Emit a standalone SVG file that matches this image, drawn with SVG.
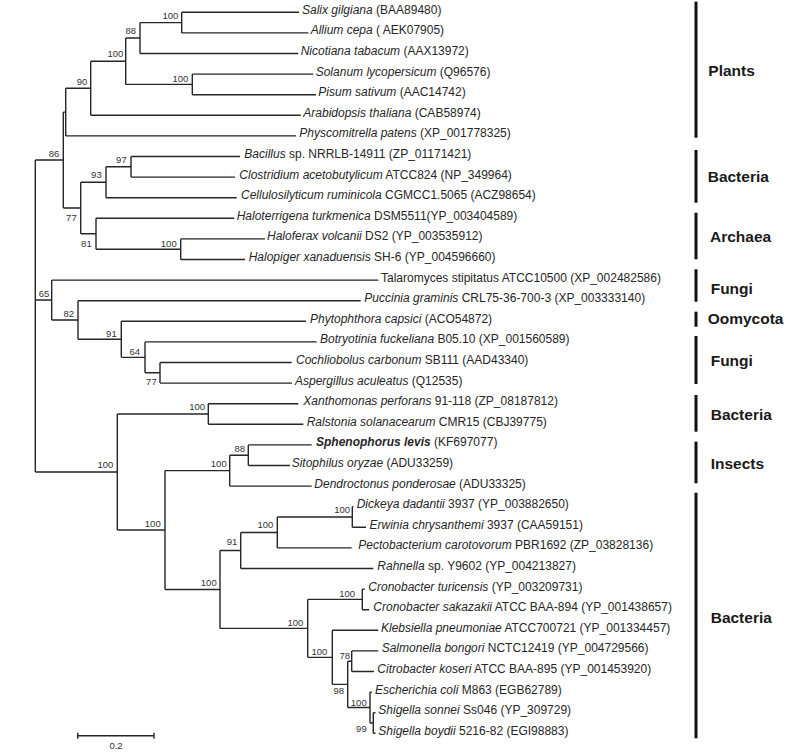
<svg xmlns="http://www.w3.org/2000/svg" width="800" height="753" viewBox="0 0 800 753">
<style>
.br{fill:none;stroke:#262626;stroke-width:1.4}
.lf{font-family:"Liberation Sans",Arial,sans-serif;font-size:12px;fill:#262626}
.bs{font-family:"Liberation Sans",Arial,sans-serif;font-size:9.5px;fill:#333;text-anchor:end}
.grp{font-family:"Liberation Sans",Arial,sans-serif;font-size:15.5px;font-weight:bold;fill:#1a1a1a}
.bar{stroke:#111;stroke-width:3}
.i{font-style:italic}
</style>
<rect width="800" height="753" fill="#fff"/>
<g id="connectors">
<path class="br" d="M35.3 160.05V472M35.3 160.05H63.3M35.3 300.05H51.7M35.3 472H117.3"/>
<path class="br" d="M63.3 112.1V208M63.3 112.1H65.7M63.3 208H80.7"/>
<path class="br" d="M65.7 88.25V135.9M65.7 88.25H90.7M65.7 135.9H296"/>
<path class="br" d="M90.7 61.2V115.3M90.7 61.2H125.7M90.7 115.3H300.7"/>
<path class="br" d="M125.7 38.05V84.4M125.7 38.05H140M125.7 84.4H192.3"/>
<path class="br" d="M140 22.6V53.5M140 22.6H181.7M140 53.5H298.3"/>
<path class="br" d="M181.7 12.3V32.9M181.7 12.3H299M181.7 32.9H308.3"/>
<path class="br" d="M192.3 74.1V94.7M192.3 74.1H313.3M192.3 94.7H316"/>
<path class="br" d="M80.7 182.25V233.75M80.7 182.25H106M80.7 233.75H96"/>
<path class="br" d="M106 166.8V197.7M106 166.8H131M106 197.7H236.7"/>
<path class="br" d="M131 156.5V177.1M131 156.5H240M131 177.1H235"/>
<path class="br" d="M96 218.3V249.2M96 218.3H234.3M96 249.2H180.7"/>
<path class="br" d="M180.7 238.9V259.5M180.7 238.9H265M180.7 259.5H245"/>
<path class="br" d="M51.7 280.1V320M51.7 280.1H378.3M51.7 320H78"/>
<path class="br" d="M78 300.7V339.3M78 300.7H360.7M78 339.3H121.3"/>
<path class="br" d="M121.3 321.3V357.35M121.3 321.3H306M121.3 357.35H145"/>
<path class="br" d="M145 341.9V372.8M145 341.9H316.7M145 372.8H160"/>
<path class="br" d="M160 362.5V383.1M160 362.5H291.7M160 383.1H292"/>
<path class="br" d="M117.3 414V530.05M117.3 414H208.3M117.3 530.05H165"/>
<path class="br" d="M208.3 403.7V424.3M208.3 403.7H298.3M208.3 424.3H303.3"/>
<path class="br" d="M165 470.65V589.45M165 470.65H229.7M165 589.45H220"/>
<path class="br" d="M229.7 455.2V486.1M229.7 455.2H248.3M229.7 486.1H311.7"/>
<path class="br" d="M248.3 444.9V465.5M248.3 444.9H311.7M248.3 465.5H290"/>
<path class="br" d="M220 550.5V628.4M220 550.5H240.7M220 628.4H307.7"/>
<path class="br" d="M240.7 532.45V568.5M240.7 532.45H277.3M240.7 568.5H373.3"/>
<path class="br" d="M277.3 517V547.9M277.3 517H352.3M277.3 547.9H351.7"/>
<path class="br" d="M352.3 506.7V527.3M352.3 506.7H353.5M352.3 527.3H366"/>
<path class="br" d="M307.7 599.4V657.35M307.7 599.4H362.3M307.7 657.35H332.3"/>
<path class="br" d="M362.3 589.1V609.7M362.3 589.1H365M362.3 609.7H369.3"/>
<path class="br" d="M332.3 630.3V684.4M332.3 630.3H378.3M332.3 684.4H347.7"/>
<path class="br" d="M347.7 661.2V707.55M347.7 661.2H351.7M347.7 707.55H370"/>
<path class="br" d="M351.7 650.9V671.5M351.7 650.9H378.3M351.7 671.5H374"/>
<path class="br" d="M370 692.1V723M370 692.1H372M370 723H373.3"/>
<path class="br" d="M373.3 712.7V733.3M373.3 712.7H375.5M373.3 733.3H375.5"/>
</g>
<g id="bootstrap">
<text class="bs" x="178.3" y="19.3">100</text>
<text class="bs" x="136" y="34.3">88</text>
<text class="bs" x="123.3" y="57.3">100</text>
<text class="bs" x="188.3" y="81.7">100</text>
<text class="bs" x="87.3" y="85">90</text>
<text class="bs" x="59.3" y="156.7">86</text>
<text class="bs" x="126.7" y="163.3">97</text>
<text class="bs" x="101.7" y="178.3">93</text>
<text class="bs" x="76.7" y="221">77</text>
<text class="bs" x="91.7" y="246.7">81</text>
<text class="bs" x="176.7" y="246.7">100</text>
<text class="bs" x="49.3" y="297.3">65</text>
<text class="bs" x="74" y="317.3">82</text>
<text class="bs" x="116.7" y="337.3">91</text>
<text class="bs" x="140" y="355">64</text>
<text class="bs" x="156.7" y="385">77</text>
<text class="bs" x="205" y="410">100</text>
<text class="bs" x="113.3" y="468.3">100</text>
<text class="bs" x="245" y="451.7">88</text>
<text class="bs" x="226.7" y="466.7">100</text>
<text class="bs" x="160.7" y="526.7">100</text>
<text class="bs" x="237.3" y="545">91</text>
<text class="bs" x="273.3" y="528">100</text>
<text class="bs" x="350" y="513.3">100</text>
<text class="bs" x="216.7" y="586">100</text>
<text class="bs" x="355" y="597.3">100</text>
<text class="bs" x="303.3" y="626">100</text>
<text class="bs" x="327.3" y="655">100</text>
<text class="bs" x="350" y="659.3">78</text>
<text class="bs" x="344" y="694">98</text>
<text class="bs" x="366.7" y="705.7">100</text>
<text class="bs" x="366.7" y="731.7">99</text>
</g>
<g id="leaf-1"><text class="lf" x="302" y="13.8"><tspan class="i">Salix gilgiana</tspan> (BAA89480)</text></g>
<g id="leaf-2"><text class="lf" x="310.7" y="34.4"><tspan class="i">Allium cepa</tspan> ( AEK07905)</text></g>
<g id="leaf-3"><text class="lf" x="300.7" y="55"><tspan class="i">Nicotiana tabacum</tspan> (AAX13972)</text></g>
<g id="leaf-4"><text class="lf" x="315.7" y="75.6"><tspan class="i">Solanum lycopersicum</tspan> (Q96576)</text></g>
<g id="leaf-5"><text class="lf" x="318.3" y="96.2"><tspan class="i">Pisum sativum</tspan> (AAC14742)</text></g>
<g id="leaf-6"><text class="lf" x="303.3" y="116.8"><tspan class="i">Arabidopsis thaliana</tspan> (CAB58974)</text></g>
<g id="leaf-7"><text class="lf" x="299.3" y="137.4"><tspan class="i">Physcomitrella patens</tspan> (XP_001778325)</text></g>
<g id="leaf-8"><text class="lf" x="244.3" y="158"><tspan class="i">Bacillus</tspan> sp. NRRLB-14911 (ZP_01171421)</text></g>
<g id="leaf-9"><text class="lf" x="239.3" y="178.6"><tspan class="i">Clostridium acetobutylicum</tspan> ATCC824 (NP_349964)</text></g>
<g id="leaf-10"><text class="lf" x="241" y="199.2"><tspan class="i">Cellulosilyticum ruminicola</tspan> CGMCC1.5065 (ACZ98654)</text></g>
<g id="leaf-11"><text class="lf" x="236.7" y="219.8"><tspan class="i">Haloterrigena turkmenica</tspan> DSM5511(YP_003404589)</text></g>
<g id="leaf-12"><text class="lf" x="267" y="240.4"><tspan class="i">Haloferax volcanii</tspan> DS2 (YP_003535912)</text></g>
<g id="leaf-13"><text class="lf" x="248.7" y="261"><tspan class="i">Halopiger xanaduensis</tspan> SH-6 (YP_004596660)</text></g>
<g id="leaf-14"><text class="lf" x="381" y="281.6">Talaromyces stipitatus ATCC10500 (XP_002482586)</text></g>
<g id="leaf-15"><text class="lf" x="364.3" y="302.2"><tspan class="i">Puccinia graminis</tspan> CRL75-36-700-3 (XP_003333140)</text></g>
<g id="leaf-16"><text class="lf" x="310" y="322.8"><tspan class="i">Phytophthora capsici</tspan> (ACO54872)</text></g>
<g id="leaf-17"><text class="lf" x="320" y="343.4"><tspan class="i">Botryotinia fuckeliana</tspan> B05.10 (XP_001560589)</text></g>
<g id="leaf-18"><text class="lf" x="296" y="364"><tspan class="i">Cochliobolus carbonum</tspan> SB111 (AAD43340)</text></g>
<g id="leaf-19"><text class="lf" x="295" y="384.6"><tspan class="i">Aspergillus aculeatus</tspan> (Q12535)</text></g>
<g id="leaf-20"><text class="lf" x="303.3" y="405.2"><tspan class="i">Xanthomonas perforans</tspan> 91-118 (ZP_08187812)</text></g>
<g id="leaf-21"><text class="lf" x="306.7" y="425.8"><tspan class="i">Ralstonia solanacearum</tspan> CMR15 (CBJ39775)</text></g>
<g id="leaf-22"><text class="lf" x="316" y="446.4"><tspan class="i" font-weight="bold">Sphenophorus levis</tspan> (KF697077)</text></g>
<g id="leaf-23"><text class="lf" x="291.7" y="467"><tspan class="i">Sitophilus oryzae</tspan> (ADU33259)</text></g>
<g id="leaf-24"><text class="lf" x="314.3" y="487.6"><tspan class="i">Dendroctonus ponderosae</tspan> (ADU33325)</text></g>
<g id="leaf-25"><text class="lf" x="356.7" y="508.2"><tspan class="i">Dickeya dadantii</tspan> 3937 (YP_003882650)</text></g>
<g id="leaf-26"><text class="lf" x="369.5" y="528.8"><tspan class="i">Erwinia chrysanthemi</tspan> 3937 (CAA59151)</text></g>
<g id="leaf-27"><text class="lf" x="358.3" y="549.4"><tspan class="i">Pectobacterium carotovorum</tspan> PBR1692 (ZP_03828136)</text></g>
<g id="leaf-28"><text class="lf" x="377.3" y="570"><tspan class="i">Rahnella</tspan> sp. Y9602 (YP_004213827)</text></g>
<g id="leaf-29"><text class="lf" x="368.3" y="590.6"><tspan class="i">Cronobacter turicensis</tspan> (YP_003209731)</text></g>
<g id="leaf-30"><text class="lf" x="373.3" y="611.2"><tspan class="i">Cronobacter sakazakii</tspan> ATCC BAA-894 (YP_001438657)</text></g>
<g id="leaf-31"><text class="lf" x="381" y="631.8"><tspan class="i">Klebsiella pneumoniae</tspan> ATCC700721 (YP_001334457)</text></g>
<g id="leaf-32"><text class="lf" x="381.7" y="652.4"><tspan class="i">Salmonella bongori</tspan> NCTC12419 (YP_004729566)</text></g>
<g id="leaf-33"><text class="lf" x="377.3" y="673"><tspan class="i">Citrobacter koseri</tspan> ATCC BAA-895 (YP_001453920)</text></g>
<g id="leaf-34"><text class="lf" x="375" y="693.6"><tspan class="i">Escherichia coli</tspan> M863 (EGB62789)</text></g>
<g id="leaf-35"><text class="lf" x="378.3" y="714.2"><tspan class="i">Shigella sonnei</tspan> Ss046 (YP_309729)</text></g>
<g id="leaf-36"><text class="lf" x="378.3" y="734.8"><tspan class="i">Shigella boydii</tspan> 5216-82 (EGI98883)</text></g>
<g id="group-plants"><line class="bar" x1="696" y1="1.7" x2="696" y2="137.7"/><text class="grp" x="708.3" y="75.7">Plants</text></g>
<g id="group-bacteria-1"><line class="bar" x1="696" y1="150" x2="696" y2="202.7"/><text class="grp" x="707.7" y="181.7">Bacteria</text></g>
<g id="group-archaea"><line class="bar" x1="696" y1="212.7" x2="696" y2="259.3"/><text class="grp" x="710" y="241.7">Archaea</text></g>
<g id="group-fungi-1"><line class="bar" x1="696" y1="269.3" x2="696" y2="301.7"/><text class="grp" x="710.7" y="294">Fungi</text></g>
<g id="group-oomycota"><line class="bar" x1="696" y1="311.7" x2="696" y2="326.7"/><text class="grp" x="707.7" y="324.3">Oomycota</text></g>
<g id="group-fungi-2"><line class="bar" x1="696" y1="336" x2="696" y2="384"/><text class="grp" x="710.7" y="366">Fungi</text></g>
<g id="group-bacteria-2"><line class="bar" x1="696" y1="395" x2="696" y2="431.7"/><text class="grp" x="710.7" y="420">Bacteria</text></g>
<g id="group-insects"><line class="bar" x1="696" y1="441.7" x2="696" y2="483.3"/><text class="grp" x="710.7" y="469">Insects</text></g>
<g id="group-bacteria-3"><line class="bar" x1="696" y1="492.7" x2="696" y2="738.3"/><text class="grp" x="710.7" y="623.3">Bacteria</text></g>
<g id="scale-bar">
<path class="br" d="M77.7 735.7H154M77.7 732.7V738.7M154 732.7V738.7"/>
<text class="bs" x="116" y="749.3" text-anchor="middle" style="text-anchor:middle">0.2</text>
</g>
</svg>
